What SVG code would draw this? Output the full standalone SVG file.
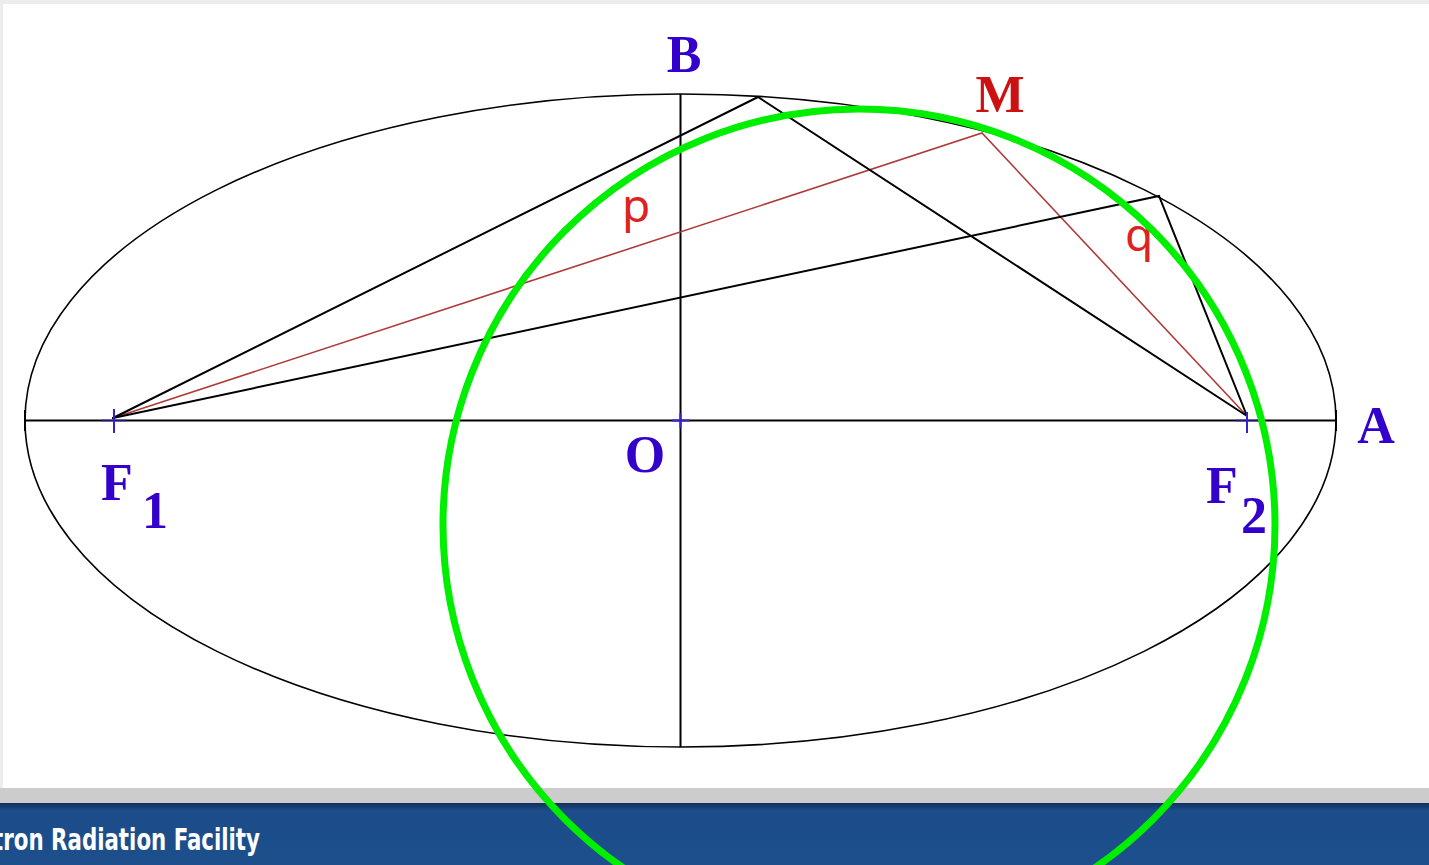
<svg xmlns="http://www.w3.org/2000/svg" width="1429" height="865" viewBox="0 0 1429 865">
<defs>
<style>
.ln{stroke:#000;stroke-width:2;fill:none;stroke-linecap:round}
.ax{stroke:#000;stroke-width:2;fill:none}
.red{stroke:#b03a3a;stroke-width:1.6;fill:none}
.tick{stroke:#3322cc;stroke-width:2;fill:none}
.lb{font-family:"Liberation Serif",serif;font-weight:bold;fill:#3300cc;font-size:52px}
.lr{font-family:"Liberation Serif",serif;font-weight:bold;fill:#cc1111;font-size:52px}
.ls{font-family:"Noto Sans","Liberation Sans",sans-serif;fill:#dd2222;font-size:46px}
</style>
<linearGradient id="bg" x1="0" y1="0" x2="0" y2="1">
<stop offset="0" stop-color="#12305c"/>
<stop offset="0.12" stop-color="#1c4c8a"/>
<stop offset="1" stop-color="#1d4f8d"/>
</linearGradient>
</defs>
<rect x="0" y="0" width="1429" height="865" fill="#ececec"/>
<rect x="3" y="4" width="1426" height="784" fill="#ffffff"/>
<rect x="0" y="788" width="1429" height="15" fill="#cccccc"/>
<rect x="0" y="803" width="1429" height="62" fill="url(#bg)"/>
<text x="-7" y="850" font-family="DejaVu Sans Condensed,DejaVu Sans,sans-serif" font-weight="bold" font-size="30" fill="#ffffff" textLength="267" lengthAdjust="spacingAndGlyphs">tron Radiation Facility</text>

<g id="ellipse">
<ellipse cx="680.5" cy="420.5" rx="655.5" ry="326.5" fill="none" stroke="#000" stroke-width="1.6"/>
</g>
<g id="axes">
<line class="ax" x1="25" y1="420.5" x2="1336" y2="420.5"/>
<line class="ax" x1="680.5" y1="94" x2="680.5" y2="747"/>
<line class="ax" x1="25" y1="410" x2="25" y2="431"/>
<line class="ax" x1="1336" y1="410" x2="1336" y2="431"/>
</g>
<g id="connectors">
<polyline class="red" points="113,418 982,133 1247,416"/>
<polyline class="ln" points="113,418 758,97 1247,416"/>
<polyline class="ln" points="113,418 1159,196 1247,416"/>
</g>
<g id="ticks">
<line class="tick" x1="114" y1="409" x2="114" y2="433"/>
<line class="tick" x1="102" y1="420.5" x2="126" y2="420.5" stroke-opacity="0.6"/>
<line class="tick" x1="1247" y1="412" x2="1247" y2="433"/>
<line class="tick" x1="1236" y1="420.5" x2="1258" y2="420.5" stroke-opacity="0.6"/>
<line class="tick" x1="680.5" y1="413" x2="680.5" y2="428"/>
<line class="tick" x1="672" y1="420.5" x2="690" y2="420.5"/>
</g>
<g id="node-B"><text class="lb" x="684" y="72" text-anchor="middle">B</text></g>
<g id="node-M"><text class="lr" x="1000" y="112" text-anchor="middle">M</text></g>
<g id="node-A"><text class="lb" x="1376" y="443" text-anchor="middle">A</text></g>
<g id="node-O"><text class="lb" x="645" y="472" text-anchor="middle">O</text></g>
<g id="node-F1"><text class="lb" x="101" y="500">F</text><text class="lb" x="142" y="528">1</text></g>
<g id="node-F2"><text class="lb" x="1206" y="503">F</text><text class="lb" x="1241" y="533">2</text></g>
<g id="label-p"><text class="ls" x="622" y="222">p</text></g>
<g id="label-q"><text class="ls" x="1125" y="251">q</text></g>
<g id="circle">
<circle cx="859" cy="525" r="416" fill="none" stroke="#00ee00" stroke-width="7"/>
</g>
</svg>
